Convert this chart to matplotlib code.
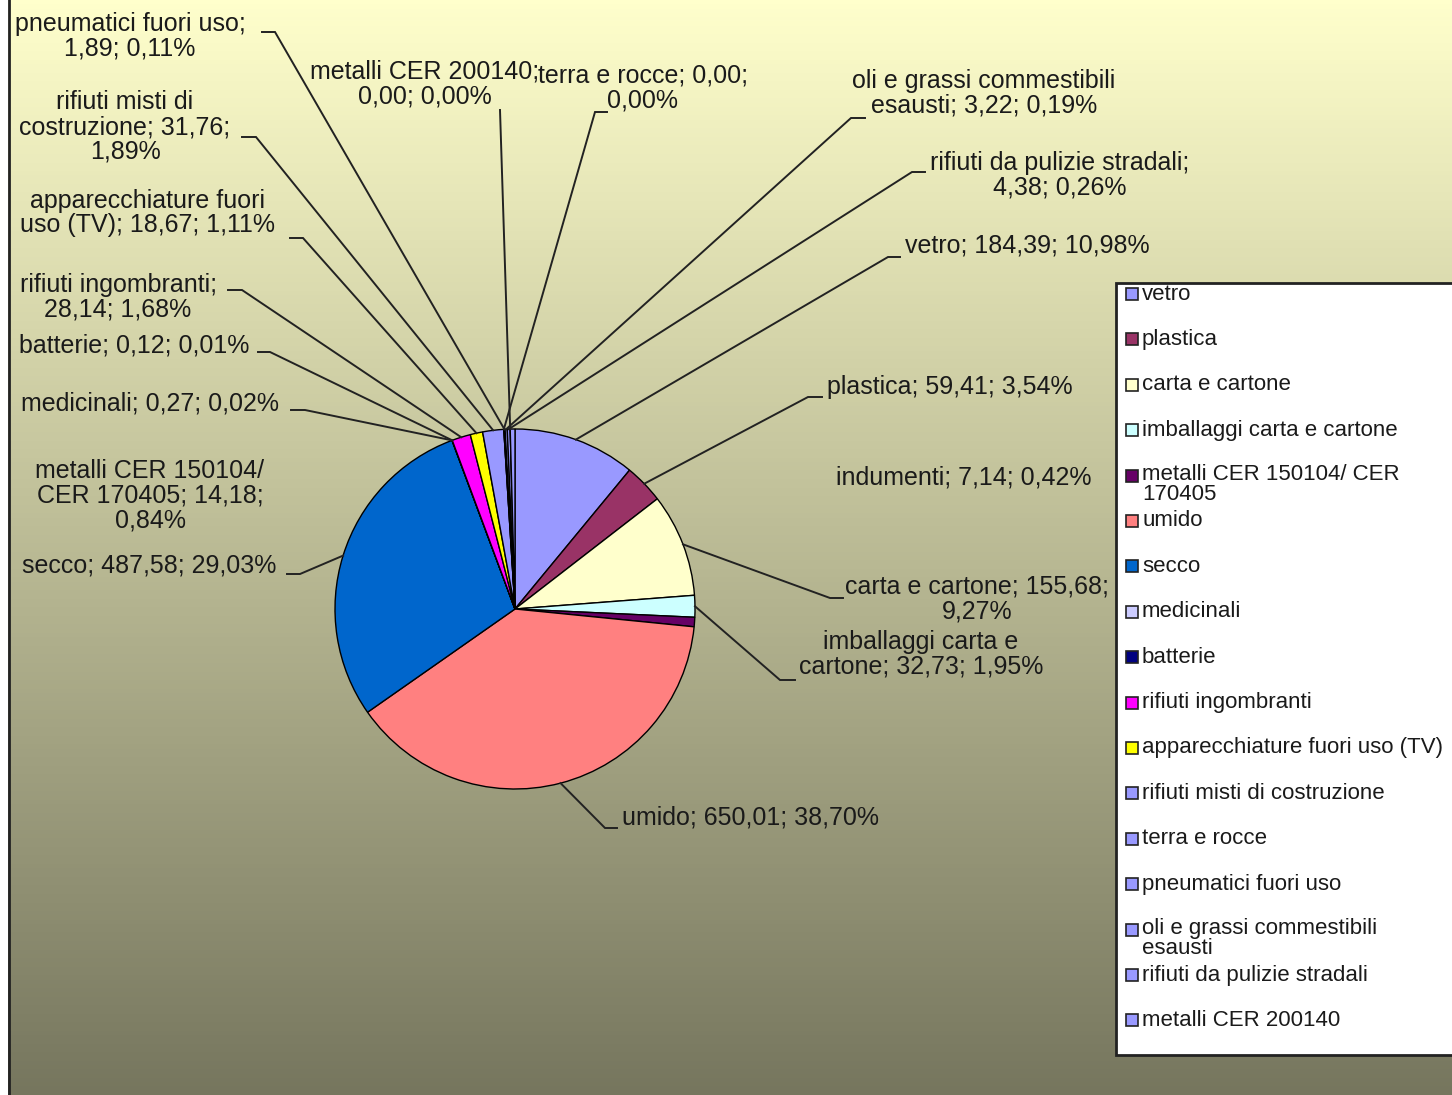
import matplotlib.pyplot as plt
import numpy as np
from matplotlib.patches import Rectangle

# ---- data ----
categories = ["vetro", "plastica", "carta e cartone", "imballaggi carta e cartone",
              "metalli CER 150104/ CER 170405", "umido", "secco", "medicinali",
              "batterie", "rifiuti ingombranti", "apparecchiature fuori uso (TV)",
              "rifiuti misti di costruzione", "terra e rocce", "pneumatici fuori uso",
              "oli e grassi commestibili esausti", "rifiuti da pulizie stradali",
              "metalli CER 200140", "indumenti"]
values = [184.39, 59.41, 155.68, 32.73, 14.18, 650.01, 487.58, 0.27, 0.12, 28.14,
          18.67, 31.76, 0.00, 1.89, 3.22, 4.38, 0.00, 7.136]
colors = ["#9999FF", "#993366", "#FFFFCC", "#CCFFFF", "#660066", "#FF8080", "#0066CC",
          "#CCCCFF", "#000080", "#FF00FF", "#FFFF00", "#9999FF", "#9999FF", "#9999FF",
          "#9999FF", "#9999FF", "#9999FF", "#9999FF"]
# legend shows only the first 17 entries (cut off in the original)
legend_labels = ["vetro", "plastica", "carta e cartone", "imballaggi carta e cartone",
                 "metalli CER 150104/ CER\n170405", "umido", "secco", "medicinali",
                 "batterie", "rifiuti ingombranti", "apparecchiature fuori uso (TV)",
                 "rifiuti misti di costruzione", "terra e rocce", "pneumatici fuori uso",
                 "oli e grassi commestibili\nesausti", "rifiuti da pulizie stradali",
                 "metalli CER 200140"]

# ---- label layout (pixel coords from top-left): template, centre, leader tick ----
label_layout = [
    ("vetro; {v}; {p}", (1027, 246), (900, 888, 257)),
    ("plastica; {v}; {p}", (950, 387), (822, 808, 397)),
    ("carta e cartone; {v};\n{p}", (977, 599), (843, 830, 598)),
    ("imballaggi carta e\ncartone; {v}; {p}", (921, 654), (795, 780, 680)),
    ("metalli CER 150104/\nCER 170405; {v};\n{p}", (150, 496), None),
    ("umido; {v}; {p}", (750, 818), (617, 605, 828)),
    ("secco; {v}; {p}", (149, 566), (287, 300, 574)),
    ("medicinali; {v}; {p}", (150, 403), (291, 305, 410)),
    ("batterie; {v}; {p}", (134, 345), (258, 270, 352)),
    ("rifiuti ingombranti;\n{v}; {p}", (118, 297), (228, 242, 290)),
    ("apparecchiature fuori\nuso (TV); {v}; {p}", (148, 213), (290, 303, 238)),
    ("rifiuti misti di\ncostruzione; {v};\n{p}", (125, 127), (242, 256, 137)),
    ("terra e rocce; {v};\n{p}", (643, 88), (607, 595, 112)),
    ("pneumatici fuori uso;\n{v}; {p}", (130, 36), (262, 275, 32)),
    ("oli e grassi commestibili\nesausti; {v}; {p}", (984, 93), (865, 851, 118)),
    ("rifiuti da pulizie stradali;\n{v}; {p}", (1060, 175), (925, 912, 172)),
    ("metalli CER 200140;\n{v}; {p}", (425, 84), (500, 500, 110)),
    ("indumenti; {v}; {p}", (964, 478), None),
]

W, H = 1452, 1095
plt.rcParams['font.family'] = ['Liberation Sans', 'DejaVu Sans']

fig = plt.figure(figsize=(W / 100, H / 100), dpi=100)
ax = fig.add_axes([0, 0, 1, 1])


def Y(y):
    # pixel row (from top) -> data y (from bottom)
    return H - y


# gradient background
top = np.array([255, 255, 204]) / 255
bot = np.array([118, 118, 94]) / 255
t = np.linspace(0, 1, 256)[:, None]
grad = (top[None, :] * (1 - t) + bot[None, :] * t)[:, None, :]
ax.imshow(grad, extent=(0, W, 0, H), aspect='auto', zorder=0)
ax.add_patch(Rectangle((0, 0), 8, H, facecolor='white', edgecolor='none', zorder=1))
ax.plot([9, 9], [0, H], color='#222222', lw=2, zorder=2)

# pie
cx, cy, r = 515, Y(609), 180
wedges, _ = ax.pie(values, colors=colors, startangle=90, counterclock=False,
                   center=(cx, cy), radius=r,
                   wedgeprops=dict(edgecolor='black', linewidth=1))
for w in wedges:
    w.set_zorder(3)

total = sum(values)
txt_color = '#1a1a1a'
for i, (tmpl, (tx, ty), tick) in enumerate(label_layout):
    v = values[i]
    vs = f"{v:.2f}".replace('.', ',')
    ps = f"{v / total * 100:.2f}%".replace('.', ',')
    ax.text(tx, Y(ty), tmpl.format(v=vs, p=ps), ha='center', va='center',
            multialignment='center', fontsize=18, color=txt_color,
            linespacing=1.05, zorder=5)
    if tick is not None:
        w = wedges[i]
        mid = np.deg2rad((w.theta1 + w.theta2) / 2)
        ex, ey = cx + r * np.cos(mid), cy + r * np.sin(mid)
        xa, xb, yt = tick
        ax.plot([xa, xb, ex], [Y(yt), Y(yt), ey], color='#222222', lw=1.4,
                zorder=4, solid_joinstyle='miter')

# legend box drawn like the original (fixed row pitch, wrapped entries overlap)
ax.add_patch(Rectangle((1116, Y(1055)), 400, 1055 - 283, facecolor='white',
                       edgecolor='#222222', lw=2, zorder=6))
for i, lab in enumerate(legend_labels):
    yy = 294 + i * 45.4
    ax.add_patch(Rectangle((1126, Y(yy) - 6), 12, 12, facecolor=colors[i],
                           edgecolor='#222222', lw=1.2, zorder=7))
    if '\n' in lab:
        ax.text(1142, Y(yy) + 12, lab, ha='left', va='top', fontsize=16,
                color=txt_color, linespacing=0.95, zorder=7)
    else:
        ax.text(1142, Y(yy), lab, ha='left', va='center', fontsize=16,
                color=txt_color, zorder=7)

ax.set_xlim(0, W)
ax.set_ylim(0, H)
ax.set_aspect('auto')
ax.axis('off')

fig.savefig('out.png', dpi=100)
